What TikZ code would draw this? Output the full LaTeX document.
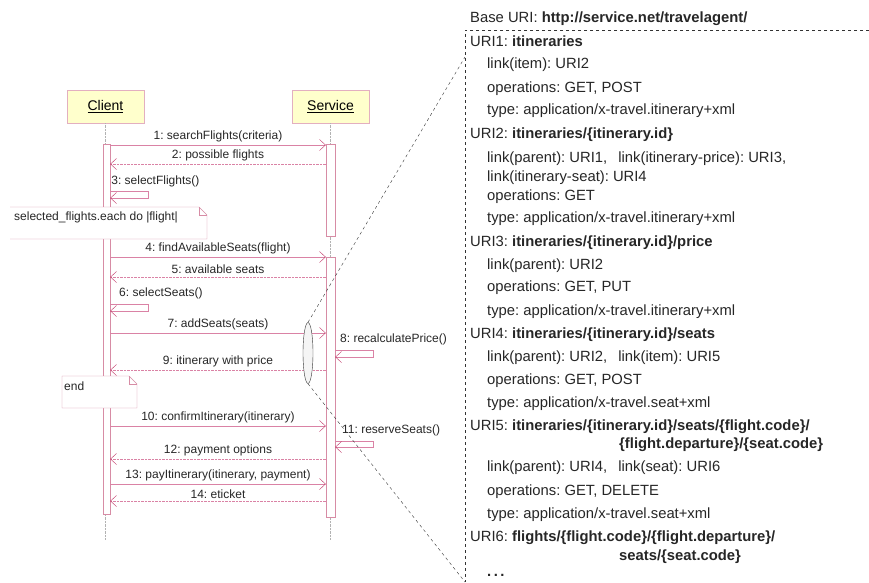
\documentclass[tikz,border=0pt]{standalone}
\usepackage{fontspec}
\setmainfont{Liberation Sans}
\frenchspacing
\usetikzlibrary{positioning,arrows.meta,shapes.geometric,calc}
\definecolor{umlline}{RGB}{218,130,165}
\definecolor{umltip}{RGB}{190,50,100}
\definecolor{umlfill}{RGB}{255,255,204}
\definecolor{umlframe}{RGB}{215,140,165}
\begin{document}
\begin{tikzpicture}[
  x=1pt,y=-1pt,
  actor/.style={rectangle,draw=umlframe!70,fill=umlfill,minimum width=77pt,minimum height=33pt,
                font=\fontsize{14}{16}\selectfont},
  bar/.style={rectangle,draw=umlframe,fill=white,minimum width=7pt,inner sep=0pt},
  life/.style={gray!60,densely dotted},
  msg/.style={umlline,-{Straight Barb[umltip,length=6pt,width=11pt]}},
  ret/.style={umlline,densely dotted,-{Straight Barb[umltip,length=6pt,width=11pt]}},
  lbl/.style={font=\fontsize{12}{14}\selectfont,inner sep=1pt,text=black!85},
  notebox/.style={draw=umlframe,fill=white},
  uri/.style={anchor=west,inner sep=0pt,font=\fontsize{14.8}{17}\selectfont,text=black!85}
]
\useasboundingbox (0,0) rectangle (869,582);

% lifelines
\node[actor] (client) at (105.5,106.5) {\underline{Client}};
\node[actor] (service) at (330.5,106.5) {\underline{Service}};
\coordinate (cend) at (106.5,540);
\coordinate (send) at (330.5,540);
\draw[life] (client.south) -- (client.south |- cend);
\draw[life] (service.south) -- (service.south |- send);

% activations
\node[bar,minimum height=370pt] (cbar) at (106.5,329) {};
\node[bar,minimum height=92pt,minimum width=9pt] (sbarA) at (330.5,190) {};
\node[bar,minimum height=260pt,minimum width=9pt] (sbarB) at (330.5,387) {};

% messages
\draw[msg] (cbar.east |- 0,145) -- (sbarA.west |- 0,145) node[lbl,midway,above=2pt] {1: searchFlights(criteria)};
\draw[ret] (sbarA.west |- 0,164) -- (cbar.east |- 0,164) node[lbl,midway,above=2pt] {2: possible flights};
\node[lbl,anchor=west] (m3) at (cbar.east |- 0,181) {3: selectFlights()};
\draw[msg] (cbar.east |- 0,191) -- ++(38,0) -- ++(0,7) -- (cbar.east |- 0,198);

% loop notes
\draw[notebox] (10,207) -- (199,207) -- (207,215) -- (207,239) -- (10,239);
\draw[umlframe] (199,207) |- (207,215);
\node[lbl,anchor=west] (loop) at (13,217) {selected\_flights.each do |flight|};

\draw[msg] (cbar.east |- 0,257) -- (sbarB.west |- 0,257) node[lbl,midway,above=2pt] {4: findAvailableSeats(flight)};
\draw[ret] (sbarB.west |- 0,277) -- (cbar.east |- 0,277) node[lbl,midway,above=2pt] {5: available seats};
\node[lbl,anchor=west] (m6) at (118,293) {6: selectSeats()};
\draw[msg] (cbar.east |- 0,304) -- ++(38,0) -- ++(0,7) -- (cbar.east |- 0,311);
\draw[msg] (cbar.east |- 0,333) -- (sbarB.west |- 0,333) node[lbl,midway,above=2pt] {7: addSeats(seats)};
\node[lbl,anchor=west] (m8) at (339,339) {8: recalculatePrice()};
\draw[msg] (sbarB.east |- 0,350) -- ++(38,0) -- ++(0,7) -- (sbarB.east |- 0,357);
\draw[ret] (sbarB.west |- 0,370) -- (cbar.east |- 0,370) node[lbl,midway,above=2pt] {9: itinerary with price};

\draw[notebox] (62,376) -- (129,376) -- (137,384) -- (137,408) -- (62,408) -- cycle;
\draw[umlframe] (129,376) |- (137,384);
\node[lbl,anchor=west] (endnote) at (63,386) {end};

\draw[msg] (cbar.east |- 0,426) -- (sbarB.west |- 0,426) node[lbl,midway,above=2pt] {10: confirmItinerary(itinerary)};
\node[lbl,anchor=west] (m11) at (341,430) {11: reserveSeats()};
\draw[msg] (sbarB.east |- 0,441) -- ++(38,0) -- ++(0,6) -- (sbarB.east |- 0,447);
\draw[ret] (sbarB.west |- 0,459) -- (cbar.east |- 0,459) node[lbl,midway,above=2pt] {12: payment options};
\draw[msg] (cbar.east |- 0,484) -- (sbarB.west |- 0,484) node[lbl,midway,above=2pt] {13: payItinerary(itinerary, payment)};
\draw[ret] (sbarB.west |- 0,501) -- (cbar.east |- 0,501) node[lbl,midway,above=1pt] {14: eticket};

% zoom onto resources
\node[ellipse,draw=black!80,fill=gray!8,minimum width=10pt,minimum height=61pt,inner sep=0pt] (grp) at (308,353) {};
\coordinate (ptop) at (465,57);
\coordinate (pbot) at (465,582);
\coordinate (pcorner) at (465,30);
\coordinate (pright) at (869,30);
\draw[dashed,black!80] (grp.north) -- (ptop);
\draw[dashed,black!80] (grp.south) -- (pbot);
\draw[dashed,black!80] (pright) -- (pcorner) -- (pbot);

% resource list
\node[uri] (base) at (470,19) {Base URI: \textbf{http://service.net/travelagent/}};
\node[uri] (u1) at (470,41) {URI1: \textbf{itineraries}};
\node[uri] (u1a) at (487,65) {link(item): URI2};
\node[uri] (u1b) at (487,89) {operations: GET, POST};
\node[uri] (u1c) at (487,111) {type: application/x-travel.itinerary+xml};
\node[uri] (u2) at (470,135) {URI2: \textbf{itineraries/\{itinerary.id\}}};
\node[uri] (u2a) at (487,159) {link(parent): URI1,\hspace{7pt} link(itinerary-price): URI3,};
\node[uri] (u2b) at (487,178) {link(itinerary-seat): URI4};
\node[uri] (u2c) at (487,197) {operations: GET};
\node[uri] (u2d) at (487,219) {type: application/x-travel.itinerary+xml};
\node[uri] (u3) at (470,243) {URI3: \textbf{itineraries/\{itinerary.id\}/price}};
\node[uri] (u3a) at (487,266) {link(parent): URI2};
\node[uri] (u3b) at (487,288) {operations: GET, PUT};
\node[uri] (u3c) at (487,312) {type: application/x-travel.itinerary+xml};
\node[uri] (u4) at (470,335) {URI4: \textbf{itineraries/\{itinerary.id\}/seats}};
\node[uri] (u4a) at (487,358) {link(parent): URI2,\hspace{7pt} link(item): URI5};
\node[uri] (u4b) at (487,381) {operations: GET, POST};
\node[uri] (u4c) at (487,404) {type: application/x-travel.seat+xml};
\node[uri] (u5) at (470,427) {URI5: \textbf{itineraries/\{itinerary.id\}/seats/\{flight.code\}/}};
\node[uri] (u5x) at (619,445) {\textbf{\{flight.departure\}/\{seat.code\}}};
\node[uri] (u5a) at (487,468) {link(parent): URI4,\hspace{7pt} link(seat): URI6};
\node[uri] (u5b) at (487,492) {operations: GET, DELETE};
\node[uri] (u5c) at (487,515) {type: application/x-travel.seat+xml};
\node[uri] (u6) at (470,538) {URI6: \textbf{flights/\{flight.code\}/\{flight.departure\}/}};
\node[uri] (u6x) at (619,557) {\textbf{seats/\{seat.code\}}};
\node[uri] (more) at (487,575) {\textbf{.\,.\,.}};
\end{tikzpicture}
\end{document}
